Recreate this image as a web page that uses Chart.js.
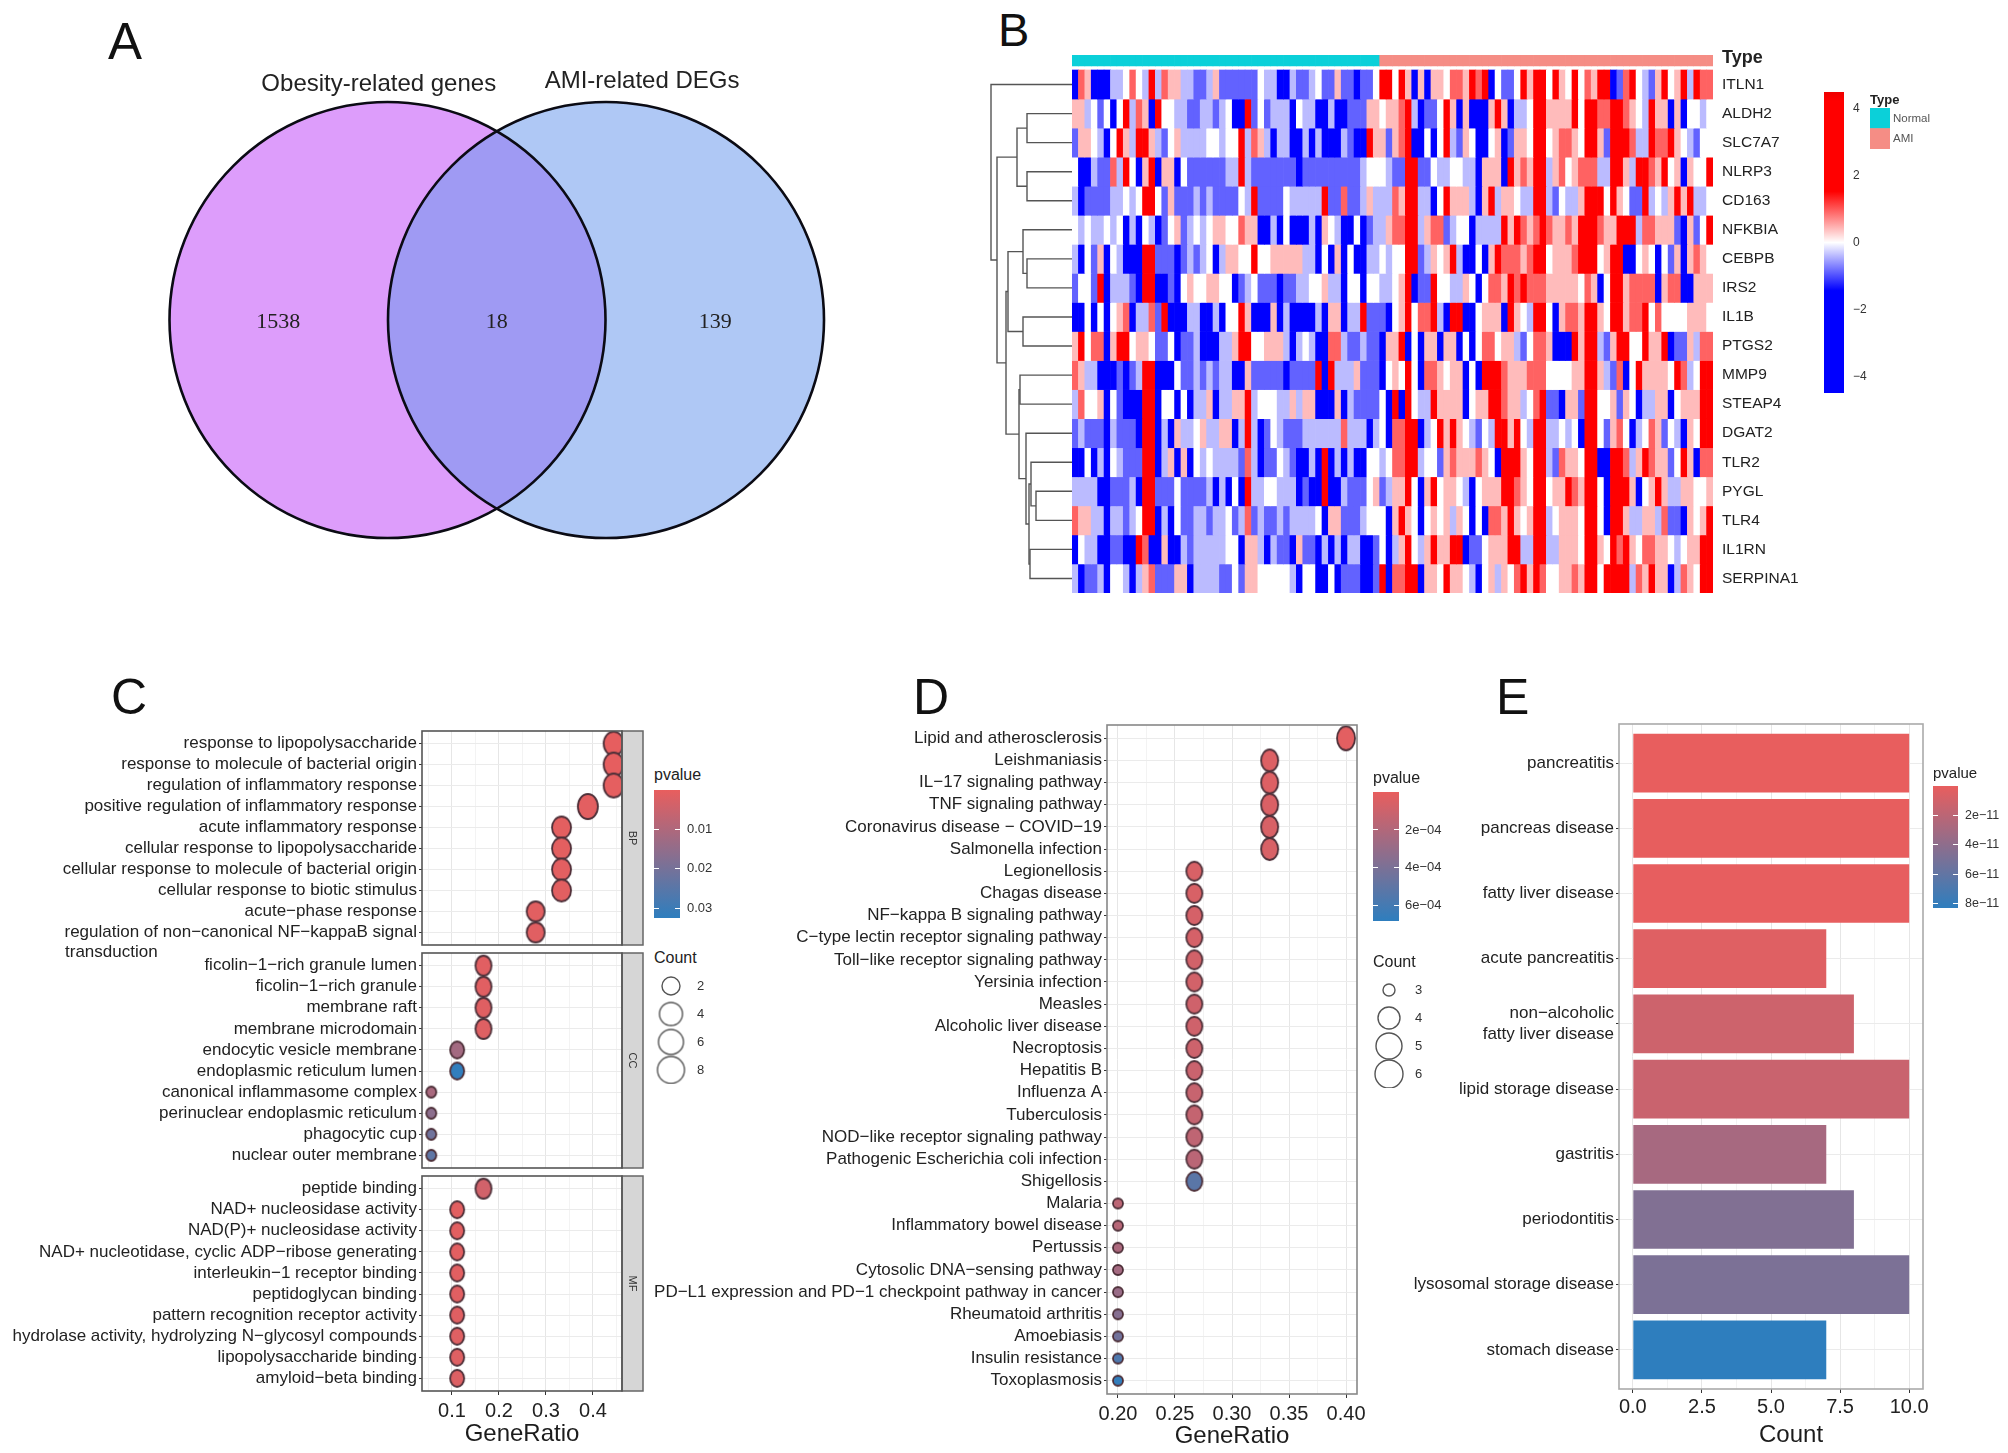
<!DOCTYPE html>
<html>
<head>
<meta charset="utf-8">
<title>Obesity and AMI gene figure</title>
<script src="https://cdn.jsdelivr.net/npm/chart.js@4/dist/chart.umd.js"></script>
<style>
  html, body { margin: 0; padding: 0; background: #fff; }
  #page { position: relative; width: 2008px; height: 1453px; overflow: hidden; background: #fff; }
  #page canvas { position: absolute; }
  .txt { position: absolute; white-space: nowrap; color: #111; transform: translateY(-50%); font-family: "Liberation Sans", sans-serif; }
</style>
</head>
<body>
<div id="page"></div>
<script>
// ==========================================
// DATA
// ==========================================

// Panel A
const vennSets = ['Obesity-related genes', 'AMI-related DEGs'];
const vennCentres = [-0.5, 0.5];
const vennCounts = ['1538', '18', '139'];

// Panel B (cell values are in half z-score steps, -3 = -1.5, 3 = 1.5)
const heatStep = 0.5;
const heatNormalCols = 48;
const heatGenes = ['ITLN1','ALDH2','SLC7A7','NLRP3','CD163','NFKBIA','CEBPB','IRS2','IL1B','PTGS2','MMP9','STEAP4','DGAT2','TLR2','PYGL','TLR4','IL1RN','SERPINA1'];
const heatITLN1 = [-3,2,1,-3,-3,-3,-1,-1,0,2,0,-1,3,-1,2,1,1,-1,-1,-2,-2,-1,1,-2,-2,-2,-2,-2,-2,0,-1,-1,-3,-3,-1,-2,-2,-1,0,-2,-2,1,-2,-2,-3,-2,-2,0,
  3,3,0,3,1,-3,1,-3,1,1,0,2,2,1,3,2,3,-3,0,-2,-2,0,3,1,3,3,0,3,1,0,3,0,2,1,3,3,-3,-2,2,3,0,-1,-2,1,3,0,1,3,-1,3,2,2];
const heatALDH2 = [1,1,-1,0,-2,0,-3,0,3,-1,2,1,-3,3,0,0,-1,-1,-2,-2,-1,-1,-2,-1,0,-3,-3,3,-2,0,-2,-1,-1,-1,-3,0,-1,-1,-3,-3,-1,-3,-3,-2,-2,-2,1,1,
  0,1,1,2,3,-1,-3,-2,-2,0,3,1,-3,1,-3,-3,-3,1,3,1,-3,-1,-1,0,3,3,1,1,1,1,3,0,3,3,2,2,3,3,2,1,0,-1,3,1,1,-3,1,-3,0,0,-1,0];
const heatSLC7A7 = [-2,1,1,0,-1,-3,0,3,1,-1,3,3,1,-1,-2,0,1,-1,-1,-1,-1,0,0,-1,0,0,3,-1,2,1,-1,-3,-1,-1,-3,-3,-1,-3,-1,-3,-3,-3,-1,-2,-3,-3,3,1,
  1,-2,1,2,3,-3,-3,0,-3,0,3,-1,-2,1,0,-3,-3,0,1,-3,-2,1,1,0,3,3,0,1,2,2,1,0,3,3,1,-2,3,3,3,2,-1,-1,3,2,2,3,1,0,-1,-2,0,0];
const heatNLRP3 = [0,-3,-3,-1,-2,-2,2,-1,3,0,-3,1,3,-3,1,1,-3,0,-2,-2,-2,-2,-2,-2,-1,-1,3,-1,-2,-2,-2,-2,-2,-2,-2,-3,-2,-2,-2,-2,-2,-2,-2,-2,-2,-1,0,0,
  0,-1,-2,-2,3,3,-2,-2,0,-1,-1,0,0,-1,-1,-3,1,1,1,-3,3,1,2,1,3,3,-1,1,2,0,1,2,2,2,-1,-1,3,3,1,-1,3,3,2,1,3,0,1,-3,1,0,0,3];
const heatCD163 = [-1,-3,-2,-2,-2,-2,-1,-1,0,-1,0,3,3,0,-2,1,-2,-2,-2,-1,-2,-1,-2,-2,-2,-2,0,-1,3,-2,-2,-2,-2,0,-1,-1,-1,-1,-1,3,-2,-2,2,-2,-2,-1,1,-1,
  -1,-1,2,1,3,3,-1,-1,-3,0,3,1,1,1,-1,-3,1,3,-1,1,1,0,-1,-1,3,3,-1,-2,0,-1,-1,1,3,3,3,0,3,1,0,-2,-2,3,-1,0,-1,1,3,1,3,-1,-1,0];
const heatNFKBIA = [0,-1,0,-1,-1,0,-1,0,-3,-1,-3,0,-1,-3,-2,0,1,-2,-1,0,-1,0,1,1,0,0,2,1,1,-3,-3,-1,-3,0,-3,-3,-3,-1,-3,1,0,-1,-3,-3,0,-3,-2,-1,
  -1,1,2,2,3,3,-1,1,2,2,-2,-1,0,0,-3,-1,-1,-1,-1,3,1,3,2,1,2,3,2,1,1,2,1,3,3,3,2,1,1,3,3,3,-1,2,2,1,1,1,-2,-3,1,-2,0,3];
const heatCEBPB = [-1,-3,0,-2,1,-3,0,-1,-3,-3,-3,3,3,-2,-2,-2,-3,-2,-1,-2,-1,0,-3,-1,1,1,0,0,3,0,0,1,1,1,1,1,-1,-1,-3,0,-3,1,-3,0,-3,-3,-1,-1,
  0,-1,0,0,3,3,-2,-1,1,0,1,3,-1,-3,-3,0,-3,1,3,2,2,2,1,2,3,3,0,1,1,1,2,3,3,3,0,1,3,3,-3,-3,0,1,0,-3,0,-2,1,-3,1,2,1,0];
const heatIRS2 = [-2,0,0,-2,3,-3,-1,-1,-1,-2,-3,3,3,-3,-3,-2,-3,0,1,0,0,1,1,0,0,-3,-2,-1,0,-2,-2,-2,-3,-2,-2,-1,-1,0,0,1,-1,-1,-3,0,0,-3,0,0,
  -1,-1,0,1,3,-3,-2,-2,3,0,0,-1,-1,1,0,-3,0,2,2,1,3,2,3,2,2,2,1,1,1,1,1,0,2,1,-3,0,3,3,1,2,2,2,2,-3,1,2,2,-3,-3,1,1,1];
const heatIL1B = [-3,-3,0,-3,0,-3,0,1,2,-3,-1,-1,2,-2,3,-3,-3,-3,-1,-1,-3,-3,-1,-3,0,0,3,1,-3,-3,-3,1,-3,-1,-3,-3,-3,-3,-1,-3,1,1,-3,-1,-1,3,-2,-2,
  -2,-3,0,1,3,0,2,2,3,-1,-3,3,3,-3,-3,0,1,1,1,-3,3,1,0,-1,3,3,0,-3,1,2,2,1,3,3,1,0,3,3,1,2,2,3,0,2,0,0,0,0,1,1,1,0];
const heatPTGS2 = [1,3,0,2,2,-3,1,3,3,0,1,1,0,-2,-2,0,-3,-2,-2,-1,-3,-3,-3,-1,-1,1,3,3,0,0,1,1,1,-1,-3,-1,0,-1,-3,-3,2,2,-1,-2,-2,-1,-2,-2,
  -3,1,1,3,-3,0,-3,1,1,-3,1,1,-3,0,-3,0,2,2,0,1,1,-1,-2,0,2,2,1,-3,-3,-3,3,1,3,3,-1,-2,1,3,3,0,0,3,1,1,3,-3,-2,-2,1,-1,2,2];
const heatMMP9 = [2,1,-1,-1,-3,-3,-3,-2,-3,-2,-1,3,3,-3,-3,-3,0,-2,-2,-1,-2,-1,-2,-1,-1,-3,-3,1,-2,-2,-2,-2,-2,-3,-2,-2,-2,-2,3,-3,3,-1,-1,-1,1,-2,-2,-2,
  -3,0,1,0,3,0,-3,2,2,1,0,1,1,-3,0,-3,3,3,3,2,1,1,1,2,2,2,0,0,0,0,1,1,3,3,1,-1,-2,2,-3,0,3,1,1,1,1,0,3,2,-1,0,3,3];
const heatSTEAP4 = [-1,2,0,0,1,-3,0,-2,-3,-3,-3,3,3,-3,0,0,-3,0,-3,-1,-1,1,-3,-1,-1,1,1,3,-1,0,0,0,-1,-1,1,-1,1,1,-3,-3,-3,1,-3,-1,-2,-2,-2,-2,
  0,-3,3,-3,3,0,-1,-1,3,1,1,1,1,-3,0,1,1,3,3,2,1,1,-1,0,2,3,-2,-2,-3,1,1,-2,3,3,0,0,1,-2,1,0,-3,-1,-1,1,1,-3,0,1,1,1,3,3];
const heatDGAT2 = [-2,-1,-2,-2,-2,-3,-1,-2,-2,-2,-3,3,3,-3,-1,-3,1,-1,-1,0,1,-1,-1,1,1,-3,-1,3,-1,-3,-2,0,-1,-2,-2,-2,-1,-1,-1,-1,-1,-1,2,-1,-1,-1,-3,-1,
  0,-3,2,2,3,3,-3,-1,0,3,1,3,1,0,-1,-2,0,-1,3,3,1,3,0,-1,3,3,-1,-1,0,-1,0,-3,3,3,0,-2,1,2,0,-3,-1,0,2,1,-2,0,-1,-3,1,0,3,3];
const heatTLR2 = [-3,-3,0,-3,-1,-3,0,-1,-2,-2,-2,3,3,-3,-1,1,-3,1,-3,0,-1,0,-1,-1,-1,-1,-2,2,-1,-3,-2,-2,0,-1,-2,-3,-3,-1,-3,3,-3,-1,-3,-1,-3,-3,0,0,
  -1,0,2,2,3,3,-1,0,0,-2,1,2,1,1,1,2,1,0,-3,3,3,3,1,0,3,3,-1,-2,2,1,1,0,3,3,-3,-3,3,3,2,-1,1,3,2,1,1,-2,0,3,1,-3,2,2];
const heatPYGL = [-1,-1,-1,-1,-3,-3,-2,-2,-2,-1,-3,3,3,-2,-2,-2,0,-2,-2,-2,-2,-1,-3,-1,-3,0,-3,3,-1,-1,0,0,-1,-1,-1,-3,-2,-3,-3,3,-3,-3,-1,-2,-2,-2,0,1,
  -2,-1,1,1,3,0,-3,1,3,0,1,1,0,-1,-3,0,1,1,1,3,3,2,1,0,3,3,0,1,1,3,2,1,3,3,0,-3,3,3,3,1,-3,0,1,3,1,-1,-1,1,1,0,0,1];
const heatTLR4 = [2,1,1,-1,-1,-3,-1,-1,-2,-1,0,3,3,-3,-1,-3,0,-2,-2,-1,-1,-2,-1,-1,0,-2,-1,2,-2,-1,-2,-2,-1,-2,-1,-1,-1,-1,0,-3,1,1,-2,-2,-2,-1,0,0,
  0,-3,1,3,1,0,-3,0,1,0,1,-1,1,0,-3,0,-3,2,2,1,3,1,0,1,3,3,-1,0,1,1,1,0,3,3,0,-3,3,3,1,-1,-1,1,1,-1,2,-2,-2,-3,1,0,1,3];
const heatIL1RN = [-3,0,-1,-1,-3,-3,-2,-2,-3,-3,3,2,-3,-3,1,-3,-3,-1,-2,-1,-1,-1,-1,-1,0,0,-3,1,1,-1,-3,-1,-2,-2,-3,1,-2,-2,-3,-1,-3,-1,-3,-1,-1,-3,-3,-2,
  0,-3,-1,1,3,0,-1,1,3,1,1,3,3,-3,-2,-2,0,1,1,1,3,3,-1,-1,3,3,-1,-1,1,1,1,0,3,3,1,0,3,2,3,1,0,2,2,1,1,0,-1,0,1,1,3,3];
const heatSERPINA1 = [-1,-3,-2,-2,-1,-3,0,0,-1,-3,-1,1,2,-2,-2,-2,1,1,-3,-1,-1,-1,-1,-2,-2,0,-2,1,1,0,0,0,0,0,-1,-3,0,0,-3,-3,0,-3,-2,-2,-2,-3,-3,-2,
  3,-3,2,2,3,3,-3,1,1,0,3,1,1,0,-1,-3,0,1,-1,1,0,2,3,1,3,2,0,0,1,1,2,1,3,3,0,3,3,3,3,-1,2,1,3,1,1,-3,-1,2,1,0,3,3];
const heatRows = [heatITLN1,heatALDH2,heatSLC7A7,heatNLRP3,heatCD163,heatNFKBIA,heatCEBPB,heatIRS2,heatIL1B,heatPTGS2,heatMMP9,heatSTEAP4,heatDGAT2,heatTLR2,heatPYGL,heatTLR4,heatIL1RN,heatSERPINA1];
const heatTicks = [4, 2, 0, -2, -4];
// tree: [child, child, height], a plain number is a row index
const dendroTree = [0, [
  [[1, 2, 45], [3, 4, 45], 55],
  [
    [[5, [6, 7, 45], 49], [8, 9, 49], 64],
    [[10, 11, 52], [12, [[13, [14, 15, 36], 41], [16, 17, 42], 43], 46], 53],
    66
  ],
  75
], 81];

// Panel C
const cBpLabels = ['response to lipopolysaccharide','response to molecule of bacterial origin','regulation of inflammatory response','positive regulation of inflammatory response','acute inflammatory response','cellular response to lipopolysaccharide','cellular response to molecule of bacterial origin','cellular response to biotic stimulus','acute\u2212phase response','regulation of non\u2212canonical NF\u2212kappaB signal'];
const cBpOverflow = 'transduction';
const cBpCounts = [8,8,8,7,6,6,6,6,5,5];
const cBpRatios = [0.444,0.444,0.444,0.389,0.333,0.333,0.333,0.333,0.278,0.278];
const cBpP = [0.0004,0.0004,0.0006,0.0009,0.0007,0.0008,0.0009,0.001,0.001,0.0012];
const cCcLabels = ['ficolin\u22121\u2212rich granule lumen','ficolin\u22121\u2212rich granule','membrane raft','membrane microdomain','endocytic vesicle membrane','endoplasmic reticulum lumen','canonical inflammasome complex','perinuclear endoplasmic reticulum','phagocytic cup','nuclear outer membrane'];
const cCcCounts = [3,3,3,3,2,2,1,1,1,1];
const cCcRatios = [0.167,0.167,0.167,0.167,0.111,0.111,0.056,0.056,0.056,0.056];
const cCcP = [0.0012,0.0013,0.0015,0.0018,0.012,0.032,0.011,0.016,0.021,0.024];
const cMfLabels = ['peptide binding','NAD+ nucleosidase activity','NAD(P)+ nucleosidase activity','NAD+ nucleotidase, cyclic ADP\u2212ribose generating','interleukin\u22121 receptor binding','peptidoglycan binding','pattern recognition receptor activity','hydrolase activity, hydrolyzing N\u2212glycosyl compounds','lipopolysaccharide binding','amyloid\u2212beta binding'];
const cMfCounts = [3,2,2,2,2,2,2,2,2,2];
const cMfRatios = [0.167,0.111,0.111,0.111,0.111,0.111,0.111,0.111,0.111,0.111];
const cMfP = [0.004,0.001,0.001,0.001,0.001,0.0012,0.0014,0.0016,0.0018,0.002];
const cMajorTicks = [0.1,0.2,0.3,0.4];
const cMinorTicks = [0.05,0.15,0.25,0.35,0.45];
const cPTicks = [0.01,0.02,0.03];
const cCountTicks = [2,4,6,8];

// Panel D
const dLabels = ['Lipid and atherosclerosis','Leishmaniasis','IL\u221217 signaling pathway','TNF signaling pathway','Coronavirus disease \u2212 COVID\u221219','Salmonella infection','Legionellosis','Chagas disease','NF\u2212kappa B signaling pathway','C\u2212type lectin receptor signaling pathway','Toll\u2212like receptor signaling pathway','Yersinia infection','Measles','Alcoholic liver disease','Necroptosis','Hepatitis B','Influenza A','Tuberculosis','NOD\u2212like receptor signaling pathway','Pathogenic Escherichia coli infection','Shigellosis','Malaria','Inflammatory bowel disease','Pertussis','Cytosolic DNA\u2212sensing pathway','PD\u2212L1 expression and PD\u22121 checkpoint pathway in cancer','Rheumatoid arthritis','Amoebiasis','Insulin resistance','Toxoplasmosis'];
const dCounts = [6,5,5,5,5,5,4,4,4,4,4,4,4,4,4,4,4,4,4,4,4,3,3,3,3,3,3,3,3,3];
const dRatios = [0.4,0.333,0.333,0.333,0.333,0.333,0.267,0.267,0.267,0.267,0.267,0.267,0.267,0.267,0.267,0.267,0.267,0.267,0.267,0.267,0.267,0.2,0.2,0.2,0.2,0.2,0.2,0.2,0.2,0.2];
const dP = [0.00002,0.00004,0.00004,0.00005,0.00006,0.00006,0.00006,0.00006,0.00007,0.00007,0.00008,0.00008,0.00009,0.00009,0.0001,0.00011,0.00012,0.00013,0.00015,0.00017,0.00052,0.00016,0.00018,0.00022,0.00025,0.00029,0.00036,0.00043,0.00056,0.00066];
const dMajorTicks = [0.2,0.25,0.3,0.35,0.4];
const dMinorTicks = [0.225,0.275,0.325,0.375];
const dPTicks = [0.0002,0.0004,0.0006];
const dCountTicks = [3,4,5,6];

// Panel E
const eLabels = ['pancreatitis','pancreas disease','fatty liver disease','acute pancreatitis',['non\u2212alcoholic','fatty liver disease'],'lipid storage disease','gastritis','periodontitis','lysosomal storage disease','stomach disease'];
const eCounts = [10,10,10,7,8,10,7,8,10,7];
const eP = [2e-13,4e-13,6e-13,4e-12,1.2e-11,1.4e-11,2.9e-11,4.6e-11,4.8e-11,8.3e-11];
const eMajorTicks = [0,2.5,5,7.5,10];
const eMinorTicks = [1.25,3.75,6.25,8.75];
const ePTicks = [2e-11,4e-11,6e-11,8e-11];

// ==========================================
// HELPERS
// ==========================================
Chart.defaults.font.family = '"Liberation Sans", Arial, sans-serif';
Chart.defaults.color = '#1c1c1c';
Chart.defaults.animation = false;
Chart.defaults.responsive = false;
Chart.defaults.layout.autoPadding = false; // plot areas are placed by hand
Chart.defaults.plugins.legend.display = false;
Chart.defaults.plugins.tooltip.enabled = false;

const page = document.getElementById('page');
const RED = [232, 94, 94];
const BLUE = [46, 126, 190];

function makeCanvas(left, top, width, height) {
    const c = document.createElement('canvas');
    c.width = width;
    c.height = height;
    c.style.left = left + 'px';
    c.style.top = top + 'px';
    c.style.width = width + 'px';
    c.style.height = height + 'px';
    page.appendChild(c);
    return c;
}

function addText(text, x, y, css) {
    const d = document.createElement('div');
    d.className = 'txt';
    d.textContent = text;
    d.style.left = x + 'px';
    d.style.top = y + 'px';
    d.style.cssText += css;
    page.appendChild(d);
}

function pColor(p, pMax) {
    const t = Math.min(1, p / pMax);
    const m = RED.map((v, i) => Math.round(v + (BLUE[i] - v) * t));
    return 'rgb(' + m.join(',') + ')';
}

// the original picture is squeezed, so its dots are ellipses
function ellipseSprite(w, h, fill, stroke, lw) {
    const c = document.createElement('canvas');
    c.width = Math.ceil(w + lw + 2);
    c.height = Math.ceil(h + lw + 2);
    const x = c.getContext('2d');
    x.beginPath();
    x.ellipse(c.width / 2, c.height / 2, w / 2, h / 2, 0, 0, Math.PI * 2);
    x.fillStyle = fill;
    x.fill();
    x.lineWidth = lw;
    x.strokeStyle = stroke;
    x.stroke();
    return c;
}

function gridColors(majors) {
    return ctx => (ctx.tick && majors.includes(ctx.tick.value)) ? '#e6e6e6' : '#f3f3f3';
}

// keep label overhang from shrinking the hand placed plot area
function fixedWidth(w) {
    return s => { s.width = w; s.paddingTop = 0; s.paddingBottom = 0; };
}
function fixedHeight(h) {
    return s => { s.height = h; s.paddingLeft = 0; s.paddingRight = 0; };
}

function valueAxis(opts) {
    const all = opts.major.concat(opts.minor);
    const ticksOn = !!(opts.title || opts.ticksOn);
    return {
        type: 'linear',
        min: opts.min,
        max: opts.max,
        afterBuildTicks: s => { s.ticks = all.map(v => ({ value: v })); },
        afterFit: fixedHeight(opts.height),
        title: opts.title ? { display: true, text: opts.title, font: { size: 24 }, padding: { top: 0, bottom: opts.titlePad } } : { display: false },
        border: { display: false },
        grid: { color: gridColors(opts.major), drawTicks: ticksOn, tickLength: 4, tickColor: ctx => (ctx.tick && opts.major.includes(ctx.tick.value)) ? '#333' : 'rgba(0,0,0,0)' },
        ticks: {
            display: ticksOn,
            autoSkip: false,
            maxRotation: 0,
            padding: opts.tickPad,
            font: { size: 20 },
            color: '#222',
            callback: v => opts.major.includes(v) ? opts.fmt(v) : ''
        }
    };
}

function categoryAxis(labels, width, fontSize) {
    return {
        type: 'linear',
        reverse: true,
        offset: false,
        min: -0.6,
        max: labels.length - 0.4,
        afterBuildTicks: s => { s.ticks = labels.map((l, i) => ({ value: i })); },
        afterFit: fixedWidth(width),
        border: { display: false },
        grid: { offset: false, color: '#ebebeb', tickColor: '#333', tickLength: 3 },
        ticks: { autoSkip: false, padding: 2, font: { size: fontSize }, color: '#222', callback: (v, i) => labels[i] }
    };
}

// panel frame, with the grey facet strip where there is one
function framePlugin(strip, color) {
    return {
        id: 'frame',
        afterDraw(chart) {
            const a = chart.chartArea, c = chart.ctx;
            c.save();
            if (strip) {
                c.fillStyle = '#d6d6d6';
                c.fillRect(a.right, a.top, 21, a.bottom - a.top);
                c.strokeStyle = '#666';
                c.lineWidth = 1.5;
                c.strokeRect(a.right, a.top, 21, a.bottom - a.top);
                c.translate(a.right + 10.5, (a.top + a.bottom) / 2);
                c.rotate(Math.PI / 2);
                c.fillStyle = '#333';
                c.font = '11px "Liberation Sans"';
                c.textAlign = 'center';
                c.textBaseline = 'middle';
                c.fillText(strip, 0, 0);
                c.setTransform(1, 0, 0, 1, 0, 0);
            }
            c.strokeStyle = color;
            c.lineWidth = 1.6;
            c.strokeRect(a.left, a.top, a.right - a.left, a.bottom - a.top);
            c.restore();
        }
    };
}

function dotPanel(o) {
    const canvas = makeCanvas(o.left, o.top - 3, o.width, o.height + 3);
    const points = o.ratios.map((r, i) => ({ x: r, y: i }));
    const sprites = o.counts.map((n, i) => ellipseSprite(o.sizes[n][0], o.sizes[n][1], pColor(o.pvals[i], o.pMax), '#4d2f38', 1.8));
    const plugins = [framePlugin(o.strip, o.frame)];
    if (o.extra) plugins.push(o.extra);
    return new Chart(canvas, {
        type: 'scatter',
        data: { datasets: [{ data: points, pointStyle: sprites, pointRadius: 10, showLine: false }] },
        options: {
            layout: { padding: { top: 3, right: o.padRight, left: 0, bottom: 0 } },
            scales: { x: o.xAxis, y: categoryAxis(o.labels, o.plotLeft - o.left, 17) }
        },
        plugins: plugins
    });
}

function colorBar(o) {
    const pad = 8;
    const canvas = makeCanvas(o.left, o.top - pad, o.barWidth + o.axisWidth, o.height + pad * 2);
    new Chart(canvas, {
        type: 'bar',
        data: {
            labels: [''],
            datasets: [{
                data: [[o.min, o.max]],
                barPercentage: 1,
                categoryPercentage: 1,
                backgroundColor: ctx => {
                    const a = ctx.chart.chartArea;
                    if (!a) return '#888';
                    const g = ctx.chart.ctx.createLinearGradient(0, a.top, 0, a.bottom);
                    o.stops.forEach(s => g.addColorStop(s[0], s[1]));
                    return g;
                }
            }]
        },
        options: {
            layout: { padding: { top: pad, bottom: pad } },
            scales: {
                x: { display: false },
                y: {
                    position: 'right',
                    min: o.min,
                    max: o.max,
                    reverse: o.reverse,
                    afterBuildTicks: s => { s.ticks = o.ticks.map(v => ({ value: v })); },
                    afterFit: fixedWidth(o.axisWidth),
                    border: { display: false, dash: o.dash, z: 1 },
                    grid: { color: o.tickColor || '#fff', z: 1, drawTicks: false },
                    ticks: { autoSkip: false, padding: o.tickPad, font: { size: o.font }, color: '#333', callback: v => o.fmt(v) }
                }
            }
        }
    });
}

function countLegend(o) {
    const canvas = makeCanvas(o.left, o.top, o.plotWidth + o.axisWidth, o.height);
    const sprites = o.counts.map(n => ellipseSprite(o.sizes[n], o.sizes[n], '#fff', '#555', 1.4));
    new Chart(canvas, {
        type: 'scatter',
        data: { datasets: [{ data: o.counts.map(n => ({ x: 0.5, y: n })), pointStyle: sprites, pointRadius: 10, showLine: false, clip: false }] },
        options: {
            scales: {
                x: { display: false, min: 0, max: 1 },
                y: {
                    position: 'right',
                    reverse: true,
                    min: o.min,
                    max: o.max,
                    afterBuildTicks: s => { s.ticks = o.counts.map(v => ({ value: v })); },
                    afterFit: fixedWidth(o.axisWidth),
                    border: { display: false },
                    grid: { display: false, drawTicks: false },
                    ticks: { autoSkip: false, padding: 10, font: { size: 13 }, color: '#333', callback: v => String(v) }
                }
            }
        }
    });
}

// ==========================================
// PANEL LETTERS
// ==========================================
addText('A', 108, 41, 'font-size:51px;');
addText('B', 998, 29, 'font-size:47px;');
addText('C', 111, 697, 'font-size:50px;');
addText('D', 913, 697, 'font-size:50px;');
addText('E', 1496, 697, 'font-size:50px;');

// ==========================================
// PANEL A: VENN
// ==========================================
const vennPlugin = {
    id: 'vennText',
    afterDraw(chart) {
        const c = chart.ctx, sx = chart.scales.x, sy = chart.scales.y;
        c.save();
        c.textAlign = 'center';
        c.textBaseline = 'middle';
        c.fillStyle = '#222';
        c.font = '24px "Liberation Sans"';
        c.fillText(vennSets[0], sx.getPixelForValue(-0.54), sy.getPixelForValue(1.08));
        c.fillText(vennSets[1], sx.getPixelForValue(0.665), sy.getPixelForValue(1.09));
        c.font = '22px "Liberation Serif"';
        c.fillText(vennCounts[0], sx.getPixelForValue(-1), sy.getPixelForValue(-0.01));
        c.fillText(vennCounts[1], sx.getPixelForValue(0), sy.getPixelForValue(-0.01));
        c.fillText(vennCounts[2], sx.getPixelForValue(1), sy.getPixelForValue(-0.01));
        c.restore();
    }
};
const vennPoints = vennCentres.map(x => ({ x: x, y: 0, r: 218 }));
new Chart(makeCanvas(100, 60, 800, 520), {
    type: 'bubble',
    data: {
        datasets: [
            { data: vennPoints, backgroundColor: 'rgba(0,0,0,0)', borderColor: '#0b0b14', borderWidth: 2.6, clip: false },
            { data: [vennPoints[1]], backgroundColor: 'rgba(104,151,236,0.53)', borderWidth: 0, clip: false },
            { data: [vennPoints[0]], backgroundColor: 'rgb(221,157,251)', borderWidth: 0, clip: false }
        ]
    },
    options: {
        scales: {
            x: { display: false, min: -1.8158, max: 1.8455 },
            y: { display: false, min: -1.19, max: 1.19 }
        }
    },
    plugins: [vennPlugin]
});

// ==========================================
// PANEL B: HEATMAP
// ==========================================
function heatColor(z) {
    const t = Math.pow(Math.min(1, Math.abs(z) / 1.5), 1.2);
    const k = Math.round(255 * (1 - t));
    return z < 0 ? 'rgb(' + k + ',' + k + ',255)' : 'rgb(255,' + k + ',' + k + ')';
}
const heatColumns = heatITLN1.map((v, i) => i);
const heatDatasets = heatRows.map((row, r) => ({
    data: row.map(() => [r, r + 1]),
    backgroundColor: row.map(v => heatColor(v * heatStep)),
    borderWidth: 0,
    barPercentage: 1,
    categoryPercentage: 1,
    grouped: false
}));
heatDatasets.push({
    data: heatColumns.map(() => [-0.516, -0.14]),
    backgroundColor: heatColumns.map(i => i < heatNormalCols ? '#0bd0d9' : '#f58d85'),
    borderWidth: 0,
    barPercentage: 1,
    categoryPercentage: 1,
    grouped: false
});
const heatAxisLabels = ['Type'].concat(heatGenes);
new Chart(makeCanvas(1072, 45, 745, 548), {
    type: 'bar',
    data: { labels: heatColumns, datasets: heatDatasets },
    options: {
        layout: { padding: { top: 10 } },
        scales: {
            x: { display: false },
            y: {
                position: 'right',
                reverse: true,
                min: -0.516,
                max: 18,
                afterBuildTicks: s => { s.ticks = [{ value: -0.4 }].concat(heatGenes.map((g, i) => ({ value: i + 0.5 }))); },
                afterFit: fixedWidth(104),
                border: { display: false },
                grid: { display: false, drawTicks: false },
                ticks: {
                    autoSkip: false,
                    padding: 9,
                    color: '#222',
                    font: ctx => ctx.index === 0 ? { size: 18, weight: 'bold' } : { size: 15.5 },
                    callback: (v, i) => heatAxisLabels[i]
                }
            }
        }
    }
});

// dendrogram
const dendroDatasets = [];
function walkTree(node) {
    if (typeof node === 'number') return { y: node + 0.5, h: 0 };
    const a = walkTree(node[0]), b = walkTree(node[1]), h = node[2];
    dendroDatasets.push({
        data: [{ x: a.h, y: a.y }, { x: h, y: a.y }, { x: h, y: b.y }, { x: b.h, y: b.y }],
        showLine: true,
        borderColor: '#555',
        borderWidth: 1.4,
        pointRadius: 0,
        clip: false
    });
    return { y: (a.y + b.y) / 2, h: h };
}
walkTree(dendroTree);
new Chart(makeCanvas(988, 70, 84, 523), {
    type: 'scatter',
    data: { datasets: dendroDatasets },
    options: {
        scales: {
            x: { display: false, reverse: true, min: 0, max: 84 },
            y: { display: false, reverse: true, min: 0, max: 18 }
        }
    }
});

// heat legend
colorBar({
    left: 1824, top: 92, height: 301, barWidth: 20, axisWidth: 44, min: -4.48, max: 4.5, reverse: false,
    ticks: heatTicks, fmt: v => String(v).replace('-', '\u2212'), tickPad: 9, font: 12,
    dash: [0, 20], tickColor: 'rgba(0,0,0,0)',
    stops: [[0, '#ee0000'], [0.03, '#ff0000'], [0.33, '#ff0000'], [0.5, '#ffffff'], [0.66, '#0000ff'], [1, '#0000ff']]
});
addText('Type', 1870, 99, 'font-size:13px;font-weight:bold;color:#222;');
new Chart(makeCanvas(1870, 108, 20, 41), {
    type: 'bar',
    data: {
        labels: ['Normal', 'AMI'],
        datasets: [{ data: [1, 1], backgroundColor: ['#0bd0d9', '#f58d85'], barPercentage: 1, categoryPercentage: 1 }]
    },
    options: {
        indexAxis: 'y',
        scales: { x: { display: false, min: 0, max: 1 }, y: { display: false } }
    }
});
addText('Normal', 1893, 118, 'font-size:11.5px;color:#555;');
addText('AMI', 1893, 138, 'font-size:11.5px;color:#555;');

// ==========================================
// PANEL C: GO DOT PLOT
// ==========================================
const cSizes = { 1: [10, 11], 2: [14, 17], 3: [16, 20], 5: [18, 20], 6: [19, 22], 7: [20, 25], 8: [20, 24] };
const cPMax = 0.0325;
const cDot = { left: 0, plotLeft: 422, width: 648, padRight: 26, sizes: cSizes, pMax: cPMax, frame: '#555' };
const overflowPlugin = {
    id: 'overflow',
    afterDraw(chart) {
        const c = chart.ctx;
        c.save();
        c.font = '17px "Liberation Sans"';
        c.fillStyle = '#222';
        c.textBaseline = 'middle';
        c.fillText(cBpOverflow, 65, chart.scales.y.getPixelForValue(9.95));
        c.restore();
    }
};
const cFmt = v => v.toFixed(1);
const cXAxis = (height, title) => valueAxis({ min: 0.0362, max: 0.4617, major: cMajorTicks, minor: cMinorTicks, height: height, title: title, titlePad: 2, tickPad: 4, fmt: cFmt });
dotPanel(Object.assign({}, cDot, { top: 731, height: 234, labels: cBpLabels, ratios: cBpRatios, counts: cBpCounts, pvals: cBpP, strip: 'BP', xAxis: cXAxis(20), extra: overflowPlugin }));
dotPanel(Object.assign({}, cDot, { top: 953, height: 216, labels: cCcLabels, ratios: cCcRatios, counts: cCcCounts, pvals: cCcP, strip: 'CC', xAxis: cXAxis(1) }));
dotPanel(Object.assign({}, cDot, { top: 1176, height: 275, labels: cMfLabels, ratios: cMfRatios, counts: cMfCounts, pvals: cMfP, strip: 'MF', xAxis: cXAxis(60, 'GeneRatio') }));

addText('pvalue', 654, 775, 'font-size:16px;color:#222;');
colorBar({
    left: 654, top: 790, height: 128, barWidth: 26, axisWidth: 40, min: 0, max: cPMax, reverse: true,
    ticks: cPTicks, fmt: v => v.toFixed(2), tickPad: 7, font: 13, dash: [5, 16, 5, 0],
    stops: [[0, 'rgb(232,94,94)'], [1, 'rgb(46,126,190)']]
});
addText('Count', 654, 958, 'font-size:16px;color:#222;');
countLegend({ left: 655, top: 972, height: 112, plotWidth: 32, axisWidth: 30, min: 1, max: 9, counts: cCountTicks, sizes: { 2: 18, 4: 23, 6: 25, 8: 27 } });

// ==========================================
// PANEL D: KEGG DOT PLOT
// ==========================================
const dSizes = { 3: [10, 10], 4: [16, 19], 5: [17, 22], 6: [18, 24] };
const dPMax = 0.00068;
dotPanel({
    left: 640, top: 725, width: 735, height: 726, plotLeft: 1107, padRight: 18,
    labels: dLabels, ratios: dRatios, counts: dCounts, pvals: dP, sizes: dSizes, pMax: dPMax, frame: '#888',
    xAxis: valueAxis({ min: 0.1904, max: 0.4096, major: dMajorTicks, minor: dMinorTicks, height: 57, title: 'GeneRatio', titlePad: 0, tickPad: 4, fmt: v => v.toFixed(2) })
});
addText('pvalue', 1373, 778, 'font-size:16px;color:#222;');
colorBar({
    left: 1373, top: 792, height: 129, barWidth: 26, axisWidth: 48, min: 0, max: dPMax, reverse: true,
    ticks: dPTicks, fmt: v => v.toExponential(0).replace('e-', 'e\u22120'), tickPad: 6, font: 13, dash: [5, 16, 5, 0],
    stops: [[0, 'rgb(232,94,94)'], [1, 'rgb(46,126,190)']]
});
addText('Count', 1373, 962, 'font-size:16px;color:#222;');
countLegend({ left: 1373, top: 976, height: 112, plotWidth: 32, axisWidth: 30, min: 2.5, max: 6.5, counts: dCountTicks, sizes: { 3: 12, 4: 22, 5: 26, 6: 28 } });

// ==========================================
// PANEL E: DO BARS
// ==========================================
const ePMax = 8.3e-11;
new Chart(makeCanvas(1400, 721, 545, 732), {
    type: 'bar',
    data: {
        datasets: [{
            data: eCounts.map((n, i) => ({ x: n, y: i })),
            backgroundColor: eP.map(p => pColor(p, ePMax)),
            barPercentage: 0.9,
            categoryPercentage: 1
        }]
    },
    options: {
        indexAxis: 'y',
        layout: { padding: { top: 3, right: 22 } },
        scales: {
            x: valueAxis({ min: -0.5, max: 10.5, major: eMajorTicks, minor: eMinorTicks, height: 64, ticksOn: true, tickPad: 2, fmt: v => v.toFixed(1) }),
            y: categoryAxis(eLabels, 219, 17)
        }
    },
    plugins: [framePlugin(null, '#aaa')]
});
addText('Count', 1759, 1434, 'font-size:24px;color:#1c1c1c;');
addText('pvalue', 1933, 772, 'font-size:15px;color:#222;');
colorBar({
    left: 1933, top: 786, height: 122, barWidth: 25, axisWidth: 48, min: 0, max: ePMax, reverse: true,
    ticks: ePTicks, fmt: v => v.toExponential(0).replace('e-', 'e\u2212'), tickPad: 7, font: 12.5, dash: [5, 15, 5, 0],
    stops: [[0, 'rgb(232,94,94)'], [1, 'rgb(46,126,190)']]
});
</script>
</body>
</html>
